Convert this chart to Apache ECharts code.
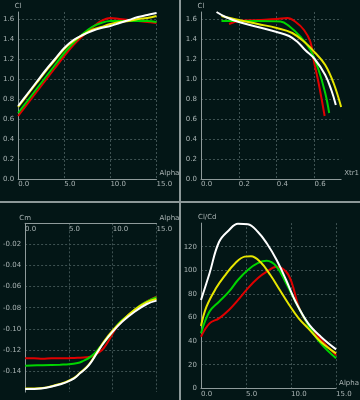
<!DOCTYPE html>
<html><head><meta charset="utf-8">
<script src="https://cdn.jsdelivr.net/npm/echarts@6/dist/echarts.min.js"></script>
<style>html,body{margin:0;padding:0;background:#031616}#c{width:360px;height:400px}</style>
</head><body><div id="c"></div>
<script>
// ---------- Panel 1: Cl vs Alpha ----------
const p1Alpha = [0,1,2,3,4,5,6,7,8,9,10,11,12,13,14,15];
const p1Red    = [0.63,0.75,0.87,0.99,1.11,1.23,1.34,1.43,1.51,1.58,1.61,1.60,1.59,1.58,1.57,1.56];
const p1Green  = [0.66,0.78,0.90,1.02,1.14,1.26,1.36,1.45,1.52,1.56,1.58,1.58,1.58,1.58,1.58,1.57];
const p1Yellow = [0.72,0.84,0.96,1.08,1.19,1.30,1.38,1.44,1.49,1.52,1.55,1.57,1.58,1.60,1.61,1.63];
const p1White  = [0.73,0.85,0.97,1.09,1.20,1.31,1.39,1.44,1.48,1.51,1.53,1.56,1.59,1.62,1.64,1.66];

// ---------- Panel 2: Cl vs Xtr1 ----------
const p2RedX    = [0.148,0.2,0.3,0.4,0.456,0.50,0.544,0.578,0.595,0.621,0.653];
const p2RedCl   = [1.55,1.58,1.59,1.60,1.61,1.57,1.49,1.37,1.19,0.96,0.63];
const p2GreenX  = [0.108,0.2,0.3,0.42,0.465,0.526,0.578,0.621,0.656,0.677];
const p2GreenCl = [1.58,1.58,1.58,1.575,1.53,1.42,1.29,1.09,0.86,0.66];
const p2YellowX = [0.108,0.2,0.3,0.4,0.482,0.552,0.604,0.656,0.70,0.74];
const p2YellowCl= [1.63,1.59,1.55,1.51,1.46,1.36,1.26,1.14,0.96,0.72];
const p2WhiteX  = [0.082,0.13,0.2,0.3,0.4,0.465,0.51,0.55,0.60,0.656,0.69,0.712];
const p2WhiteCl = [1.67,1.62,1.57,1.52,1.47,1.43,1.37,1.29,1.20,1.04,0.88,0.74];

// ---------- Panel 3: Cm vs Alpha ----------
const p3RedA    = [0,1,2,3,4,5,6,7,7.7,8.5,9,9.7,10.5,11.8,13.2,15];
const p3RedCm   = [-0.128,-0.128,-0.1285,-0.128,-0.128,-0.1278,-0.1275,-0.127,-0.1258,-0.122,-0.118,-0.109,-0.098,-0.087,-0.0775,-0.0696];
const p3GreenA  = [0,2,4,5,6,6.5,7.5,8.6,9.7,10.7,11.8,13.2,15];
const p3GreenCm = [-0.135,-0.1345,-0.134,-0.1337,-0.1325,-0.131,-0.1264,-0.117,-0.106,-0.0948,-0.087,-0.0775,-0.0701];
const p3YellowA = [0,2,3.4,4.6,5.6,6.3,7,7.5,8.2,9,10,11.1,12.5,13.9,15];
const p3YellowCm= [-0.1565,-0.156,-0.1535,-0.1505,-0.1465,-0.1415,-0.1365,-0.1315,-0.1225,-0.112,-0.1015,-0.092,-0.082,-0.0748,-0.0717];
const p3WhiteA  = [0,1.85,3.4,4.6,5.6,6.3,7,7.5,8.2,9,10,11.1,12.5,13.9,15];
const p3WhiteCm = [-0.157,-0.1565,-0.154,-0.151,-0.147,-0.142,-0.137,-0.132,-0.123,-0.113,-0.1027,-0.0932,-0.0838,-0.0765,-0.0733];

// ---------- Panel 4: Cl/Cd vs Alpha ----------
const p4RedA    = [0,0.95,2,3.1,4.1,5.2,6.3,7.3,8.4,9.45,10.1,10.85,11.9,13.3,15];
const p4RedV    = [43.7,55,59.3,66.4,74.8,84.7,93.2,98.8,103,98.8,89,69,53.6,41.5,28];
const p4GreenA  = [0,0.95,2,3.1,4.1,5.2,6.3,7.3,8.4,9.45,10.5,11.9,13.3,15];
const p4GreenV  = [46.6,65,73.4,81.9,91.8,100.3,106,108,103,89,73.4,53.6,38,25.4];
const p4YellowA = [0,0.6,1.66,2.7,3.8,4.85,5.55,6.6,7.7,8.75,9.8,10.85,11.9,13.3,15];
const p4YellowV = [52.8,69,84.7,96,106,111.6,112,107,96,83.3,70.6,59.3,50.8,39.5,29.6];
const p4WhiteA  = [0,0.95,2,3.1,4.1,5.2,6.3,7.3,8.4,9.45,10.5,11.9,13.3,15];
const p4WhiteV  = [74.8,97.5,124,134,139.5,139,132.7,122.9,108.7,91.8,73.4,55,43.7,33];

const COLORS = {red:'#e00000', green:'#00d400', yellow:'#e6e600', white:'#ffffff'};
const AX = '#8f9b9b', GRIDC = '#3e5252', LBL = '#aab4b4', FS = 7, FF = 'DejaVu Sans';

function zip(xs, ys){ return xs.map((x,i)=>[x, ys[i]]); }

function xAx(gi, min, max, interval, name, fmt, opts){
  opts = opts || {};
  return {
    type:'value', gridIndex:gi, min:min, max:max, interval:interval,
    position: opts.top ? 'top' : 'bottom',
    name:name, nameLocation:'end', nameGap:3,
    nameTextStyle:{color:LBL, fontSize:FS, fontFamily:FF, align:'left', verticalAlign:'bottom', padding:[0,0,2,0]},
    axisLine:{onZero:false, lineStyle:{color:AX, width:1}},
    axisTick:{show:false},
    axisLabel:{color:LBL, fontSize:FS, fontFamily:FF, align:'left', margin:2, inside:!!opts.top,
      formatter:fmt, showMaxLabel: opts.hideMax ? false : true},
    splitLine:{show:true, showMinLine:false, showMaxLine: opts.hideMax ? false : true,
      lineStyle:{color:GRIDC, width:1, type:[2,2]}}
  };
}
function yAx(gi, min, max, interval, name, fmt, opts){
  opts = opts || {};
  return {
    type:'value', gridIndex:gi, min:min, max:max, interval:interval,
    name:name, nameLocation:'end', nameGap:2,
    nameTextStyle:{color:LBL, fontSize:FS, fontFamily:FF, align: opts.nameLeft ? 'left' : 'center', padding: opts.nameLeft ? [0,0,0,-3] : 0},
    axisLine:{onZero:false, lineStyle:{color:AX, width:1}},
    axisTick:{show:false},
    axisLabel:{color:LBL, fontSize:FS, fontFamily:FF, margin:4, formatter:fmt,
      showMaxLabel: opts.hideMax ? false : true, showMinLabel: opts.hideMin ? false : true},
    splitLine:{show:true, showMinLine:false, showMaxLine:false,
      lineStyle:{color:GRIDC, width:1, type:[2,2]}}
  };
}
function line(xi, yi, data, color){
  return {type:'line', xAxisIndex:xi, yAxisIndex:yi, data:data, smooth:0.4,
    showSymbol:false, symbol:'none', lineStyle:{color:color, width:2}, itemStyle:{color:color}, z:2};
}
const f1 = v => v.toFixed(1);
const f2 = v => v.toFixed(2);
const f0 = v => String(Math.round(v));

const chart = echarts.init(document.getElementById('c'), null, {renderer:'canvas'});
chart.setOption({
  backgroundColor:'#031616',
  animation:false,
  grid:[
    {left:16, top:12, width:140.5, height:167},
    {left:201, top:12, width:141.7, height:167},
    {left:16, top:223.3, width:140.5, height:168.8},
    {left:201, top:223.1, width:141.3, height:165.2}
  ],
  xAxis:[
    xAx(0, 0, 15, 5, 'Alpha', f1),
    xAx(1, 0, 0.74, 0.2, 'Xtr1', f1, {hideMax:true}),
    xAx(2, 0, 15, 5, 'Alpha', f1, {top:true}),
    xAx(3, 0, 15, 5, 'Alpha', f1)
  ],
  yAxis:[
    yAx(0, 0, 1.67, 0.2, 'Cl', f1, {hideMax:true}),
    yAx(1, 0, 1.67, 0.2, 'Cl', f1, {hideMax:true}),
    yAx(2, -0.16, 0, 0.02, 'Cm', f2, {hideMax:true, hideMin:true}),
    yAx(3, 0, 140, 20, 'Cl/Cd', f0, {hideMax:true, nameLeft:true})
  ],
  series:[
    line(0,0, zip(p1Alpha,p1Red), COLORS.red),
    line(0,0, zip(p1Alpha,p1Green), COLORS.green),
    line(0,0, zip(p1Alpha,p1Yellow), COLORS.yellow),
    line(0,0, zip(p1Alpha,p1White), COLORS.white),
    line(1,1, zip(p2RedX,p2RedCl), COLORS.red),
    line(1,1, zip(p2GreenX,p2GreenCl), COLORS.green),
    line(1,1, zip(p2YellowX,p2YellowCl), COLORS.yellow),
    line(1,1, zip(p2WhiteX,p2WhiteCl), COLORS.white),
    line(2,2, zip(p3RedA,p3RedCm), COLORS.red),
    line(2,2, zip(p3GreenA,p3GreenCm), COLORS.green),
    line(2,2, zip(p3YellowA,p3YellowCm), COLORS.yellow),
    line(2,2, zip(p3WhiteA,p3WhiteCm), COLORS.white),
    line(3,3, zip(p4RedA,p4RedV), COLORS.red),
    line(3,3, zip(p4GreenA,p4GreenV), COLORS.green),
    line(3,3, zip(p4YellowA,p4YellowV), COLORS.yellow),
    line(3,3, zip(p4WhiteA,p4WhiteV), COLORS.white)
  ],
  graphic:[
    {type:'rect', shape:{x:179, y:0, width:2, height:400}, style:{fill:'#8c9898'}, z:10},
    {type:'rect', shape:{x:0, y:201, width:360, height:2}, style:{fill:'#8c9898'}, z:10}
  ]
});
</script></body></html>
